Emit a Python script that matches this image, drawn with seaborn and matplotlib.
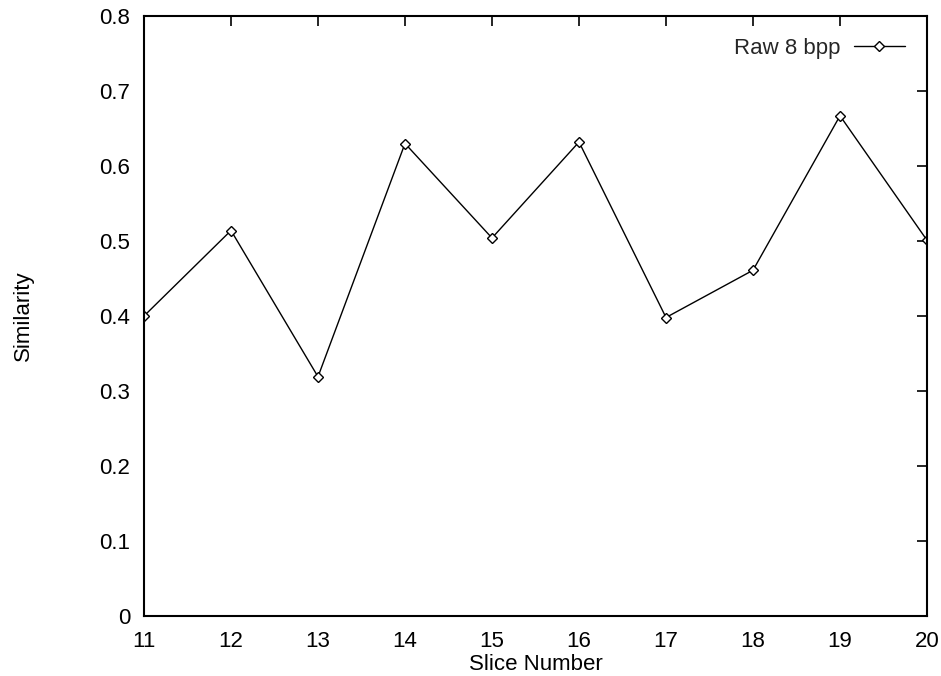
import matplotlib
matplotlib.use("Agg")
import matplotlib.pyplot as plt
import seaborn as sns
import pandas as pd

slices = [11, 12, 13, 14, 15, 16, 17, 18, 19, 20]
similarity = [0.400, 0.514, 0.319, 0.630, 0.504, 0.632, 0.398, 0.461, 0.667, 0.501]
series_name = "Raw 8 bpp"
x_ticks = list(range(11, 21))
y_ticks = [0, 0.1, 0.2, 0.3, 0.4, 0.5, 0.6, 0.7, 0.8]
y_tick_labels = ["0", "0.1", "0.2", "0.3", "0.4", "0.5", "0.6", "0.7", "0.8"]

sns.set_theme(style="white")
plt.rcParams["font.family"] = ["Liberation Sans", "DejaVu Sans"]

df = pd.DataFrame({"Slice": slices, "Similarity": similarity, "series": series_name})

fig = plt.figure(figsize=(9.41, 6.76), dpi=100)
ax = fig.add_axes([144 / 941, 1 - 616 / 676, (927 - 144) / 941, 600 / 676])

sns.lineplot(data=df, x="Slice", y="Similarity", hue="series", palette=["black"],
             marker="D", markersize=5, markerfacecolor="white", markeredgecolor="black",
             markeredgewidth=1.0, linewidth=1.0, ax=ax)

fs = 16
ax.set_xlim(11, 20)
ax.set_ylim(0, 0.8)
ax.set_xticks(x_ticks)
ax.set_yticks(y_ticks)
ax.set_yticklabels(y_tick_labels)
ax.tick_params(direction="in", length=7, width=1.2, color="black",
               top=True, right=True, labelsize=fs, labelcolor="black")
ax.tick_params(axis="y", pad=10)
ax.tick_params(axis="x", pad=11)
for s in ax.spines.values():
    s.set_color("black")
    s.set_linewidth(1.5)

ax.set_xlabel("Slice Number", fontsize=fs, color="black", va="center")
ax.xaxis.set_label_coords(0.5, (616 - 664) / 600)
ax.set_ylabel("Similarity", fontsize=fs, color="black", va="center")
ax.yaxis.set_label_coords((23 - 144) / 783, 0.5)

leg = ax.legend(loc="upper right", frameon=False, markerfirst=False, fontsize=fs,
                handlelength=2.3, borderaxespad=0.6, handletextpad=0.6)

fig.savefig("out.png", dpi=100, facecolor="white")
